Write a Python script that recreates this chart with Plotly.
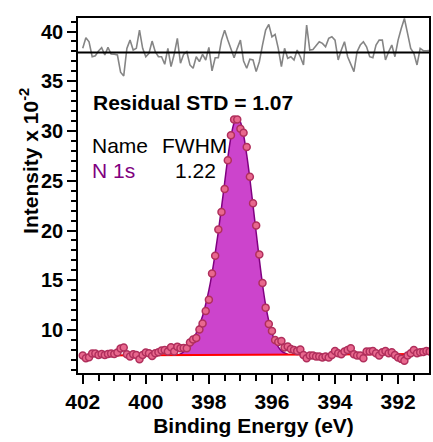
import numpy as np
import plotly.graph_objects as go

# ---------------- data ----------------
binding_energy = np.round(402.0 - 0.1 * np.arange(111), 1)

intensity = [
    7.45, 7.17, 7.27, 7.65, 7.65, 7.5, 7.6, 7.5, 7.6, 7.65,
    7.6, 7.75, 8.15, 8.25, 7.57, 7.33, 7.57, 7.5, 7.07, 7.5,
    7.73, 7.67, 7.4, 7.67, 7.77, 7.93, 8.0, 7.83, 8.27, 7.83,
    8.33, 8.17, 8.2, 8.17, 8.75, 9.05, 9.2, 10.05, 10.65, 11.9,
    13.05, 15.67, 17.47, 20.1, 21.87, 24.17, 27.07, 29.57, 31.17, 31.17,
    30.23, 29.83, 28.4, 25.4, 22.73, 20.5, 17.6, 14.73, 12.25, 10.6,
    9.9, 9.0, 8.8, 8.9, 8.25, 8.35, 8.1, 8.0, 7.9, 8.05,
    7.5, 7.17, 7.43, 7.43, 7.33, 7.33, 7.23, 7.33, 7.23, 7.5,
    7.9, 7.67, 7.57, 7.83, 8.0, 8.17, 7.57, 7.43, 7.43, 7.17,
    7.83, 7.85, 7.9, 7.67, 7.43, 7.77, 7.9, 7.67, 7.77, 7.5,
    7.23, 7.1, 6.9, 7.43, 7.67, 8.0, 7.67, 7.77, 7.8, 7.9,
    7.83,
]

residual = [
    0.42, 1.48, 1.08, -0.42, -0.32, 0.15, 0.48, -0.25, 0.52, -0.15,
    -0.18, -0.25, -1.98, -2.35, 0.42, 1.25, 0.25, 0.42, 2.25, 0.42,
    -0.42, -0.08, 1.15, 0.08, -0.42, -0.42, -1.18, 0.42, -1.42, -0.18,
    1.42, -1.08, -0.18, 0.08, -1.25, -1.58, -0.42, -0.92, -0.18, -0.75,
    0.52, -1.85, -0.52, -0.52, 1.25, 2.25, 1.25, 0.25, -0.52, 0.42,
    1.25, -0.85, -1.58, -0.68, -0.75,
    -1.92, -0.92, 0.75, 2.25, 2.82, 1.58, 1.82, 0.42, -1.42, 0.42,
    -0.58, -0.42, -0.75, 0.25, -0.42, -1.25, 2.75, 0.25, 0.3, 0.75,
    1.08, 0.92, 0.58, 1.42, 1.58, 1.25, -0.75, 0.25, 1.08, -0.42,
    -1.25, -1.92, 0.08, 0.75, 1.08, 0.58, -0.42, -0.52, 0.75, 1.25,
    1.25, -0.75, 0.08, 0.75, -0.42, 1.25, 2.42, 3.42, 1.92, 0.42,
    -0.08, -1.25, 0.42, 0.18, 0.18, 0.2,
]

fit_be = [399.0, 398.9, 398.8, 398.7, 398.6, 398.5, 398.4, 398.3, 398.2, 398.1,
          398.0, 397.9, 397.8, 397.7, 397.6, 397.5, 397.4, 397.3, 397.2, 397.1,
          397.0, 396.9, 396.8, 396.7, 396.6, 396.5, 396.4, 396.3, 396.2, 396.1,
          396.0, 395.9, 395.8, 395.7, 395.6, 395.5]
fit_int = [7.49, 7.6, 7.8, 8.05, 8.45, 9.0, 9.7, 10.5, 11.4, 12.6,
           14.0, 15.7, 17.7, 19.9, 22.3, 24.8, 27.3, 29.4, 30.8, 31.3,
           30.9, 29.6, 27.6, 25.2, 22.5, 19.8, 17.1, 14.6, 12.5, 10.9,
           9.7, 8.9, 8.3, 7.9, 7.7, 7.56]

background_be = [402.0, 391.0]
background_int = [7.45, 7.6]

x_ticks = [402, 400, 398, 396, 394, 392]
y_ticks = [10, 15, 20, 25, 30, 35, 40]

# ---------------- figure ----------------
FONT = "Liberation Sans, Arial, Helvetica, sans-serif"
fig = go.Figure()

fig.add_trace(go.Scatter(
    x=fit_be, y=fit_int, mode="lines", line=dict(color="#800080", width=1.5, shape="spline"),
    fill="toself", fillcolor="#cc44cc", hoverinfo="skip", showlegend=False))

fig.add_trace(go.Scatter(
    x=background_be, y=background_int, mode="lines",
    line=dict(color="#ff0000", width=2), showlegend=False))

fig.add_trace(go.Scatter(
    x=binding_energy, y=intensity, mode="markers",
    marker=dict(size=7, color="#e8688e", line=dict(color="#b02f5c", width=1.5)),
    showlegend=False))

fig.add_trace(go.Scatter(
    x=binding_energy, y=residual, mode="lines", yaxis="y2",
    line=dict(color="#858585", width=1.6), showlegend=False))

fig.add_shape(type="line", xref="paper", x0=0, x1=1, yref="y2", y0=0, y1=0,
              line=dict(color="black", width=2))

axis_common = dict(
    showline=True, linecolor="black", linewidth=1.5, mirror=True,
    ticks="outside", ticklen=9, tickwidth=1.5, tickcolor="black",
    showgrid=False, zeroline=False,
)

fig.update_layout(
    width=433, height=442,
    margin=dict(l=78, r=2, t=18, b=69),
    paper_bgcolor="white", plot_bgcolor="white",
    xaxis=dict(
        range=[402.15, 391.02], tickvals=x_ticks,
        minor=dict(dtick=0.5, ticklen=6, tickwidth=1.5, tickcolor="black", ticks="outside"),
        tickfont=dict(family=FONT, size=21, color="black", weight="bold"),
        title=dict(text="Binding Energy (eV)", standoff=6,
                   font=dict(family=FONT, size=21, color="black", weight="bold")),
        **axis_common),
    yaxis=dict(
        range=[5.68, 41.36], tickvals=y_ticks,
        minor=dict(dtick=1, ticklen=5, tickwidth=1.5, tickcolor="black", ticks="outside"),
        tickfont=dict(family=FONT, size=20, color="black", weight="bold"),
        **axis_common),
    yaxis2=dict(overlaying="y", range=[-32.21, 3.47], visible=False, showgrid=False, zeroline=False),
)

def ann(text, x, y, xanchor, color="black", weight="normal", size=21, angle=0):
    fig.add_annotation(text=text, xref="paper", yref="paper", x=x, y=y,
                       xanchor=xanchor, yanchor="middle", showarrow=False, textangle=angle,
                       font=dict(family=FONT, size=size, color=color, weight=weight))

ann("Intensity x 10<sup>-2</sup>", -0.14, 0.597, "center", weight="bold", size=21, angle=-90)
ann("Residual STD = 1.07", 0.036, 0.763, "left", weight="bold")
ann("Name", 0.033, 0.642, "left")
ann("N 1s", 0.033, 0.570, "left", color="#800080")
ann("FWHM", 0.331, 0.642, "center")
ann("1.22", 0.334, 0.570, "center")

fig.write_html("out.html")
